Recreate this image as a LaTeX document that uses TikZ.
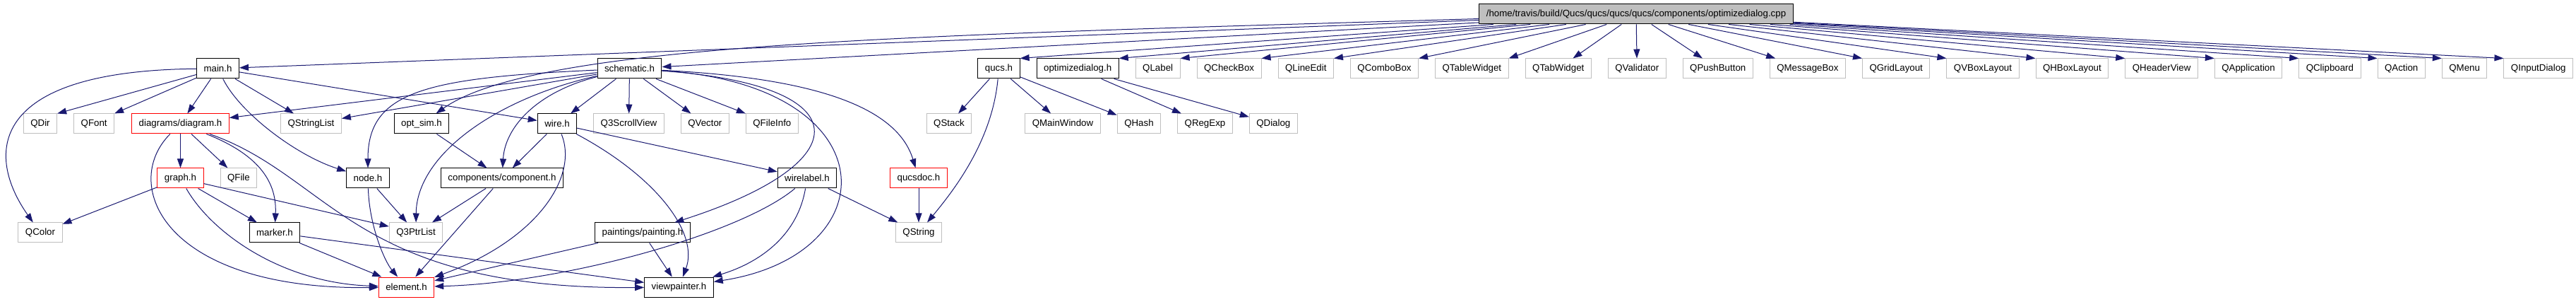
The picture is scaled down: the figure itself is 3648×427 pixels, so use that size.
\documentclass[tikz,border=0pt]{standalone}
\usepackage{fontspec}
\setmainfont{Liberation Sans}
\usetikzlibrary{arrows.meta, positioning}
\definecolor{incblue}{RGB}{25, 25, 112}
\definecolor{incgray}{RGB}{191, 191, 191}
\definecolor{incred}{RGB}{255, 0, 0}

\begin{document}
\begin{tikzpicture}[
      x=1pt, y=1pt,
      node distance=23pt,
      font=\fontsize{13.3pt}{16pt}\selectfont,
      hdr/.style={rectangle, draw=black, fill=white, line width=1pt, minimum height=28pt, inner xsep=10pt, inner ysep=0pt},
      hdrred/.style={hdr, draw=incred},
      qt/.style={hdr, draw=incgray},
      src/.style={hdr, fill=incgray},
      arr/.style={-{Triangle[length=13pt, width=9pt]}, line width=1pt, incblue}
    ]
      \useasboundingbox (0,0) rectangle (3648,-427);
      \node[src] (SRC) at (2317,-20) {/home/travis/build/Qucs/qucs/qucs/qucs/components/optimizedialog.cpp};

      \node[hdr] (MAIN) at (308.5,-97) {main.h};
      \node[hdr] (SCH) at (891.5,-97) {schematic.h};
      \node[hdr] (QUCS) at (1414.5,-97) {qucs.h};
      \node[hdr, right=of QUCS] (OPTD) {optimizedialog.h};
      \node[qt, right=of OPTD] (QLBL) {QLabel};
      \node[qt, right=of QLBL] (QCHK) {QCheckBox};
      \node[qt, right=of QCHK] (QLE) {QLineEdit};
      \node[qt, right=of QLE] (QCMB) {QComboBox};
      \node[qt, right=of QCMB] (QTBL) {QTableWidget};
      \node[qt, right=of QTBL] (QTAB) {QTabWidget};
      \node[qt, right=of QTAB] (QVAL) {QValidator};
      \node[qt, right=of QVAL] (QPB) {QPushButton};
      \node[qt, right=of QPB] (QMB) {QMessageBox};
      \node[qt, right=of QMB] (QGL) {QGridLayout};
      \node[qt, right=of QGL] (QVBL) {QVBoxLayout};
      \node[qt, right=of QVBL] (QHBL) {QHBoxLayout};
      \node[qt, right=of QHBL] (QHV) {QHeaderView};
      \node[qt, right=of QHV] (QAPP) {QApplication};
      \node[qt, right=of QAPP] (QCLP) {QClipboard};
      \node[qt, right=of QCLP] (QACT) {QAction};
      \node[qt, right=of QACT] (QMNU) {QMenu};
      \node[qt, right=of QMNU] (QID) {QInputDialog};

      \node[qt] (QDIR) at (57,-175) {QDir};
      \node[qt, right=of QDIR] (QFNT) {QFont};
      \node[hdrred] (DIAG) at (255.5,-175) {diagrams/diagram.h};
      \node[qt] (QSL) at (440.5,-175) {QStringList};
      \node[hdr] (OSIM) at (597,-175) {opt\_sim.h};
      \node[hdr] (WIRE) at (789,-175) {wire.h};
      \node[qt, right=of WIRE] (Q3SV) {Q3ScrollView};
      \node[qt, right=of Q3SV] (QVEC) {QVector};
      \node[qt, right=of QVEC] (QFI) {QFileInfo};
      \node[qt] (QSTK) at (1344,-175) {QStack};
      \node[qt] (QMW) at (1505,-175) {QMainWindow};
      \node[qt, right=of QMW] (QHSH) {QHash};
      \node[qt, right=of QHSH] (QRX) {QRegExp};
      \node[qt, right=of QRX] (QDLG) {QDialog};

      \node[hdrred] (GRAPH) at (255.5,-252) {graph.h};
      \node[qt, right=of GRAPH] (QFILE) {QFile};
      \node[hdr] (NODE) at (521,-252) {node.h};
      \node[hdr] (COMP) at (711,-252) {components/component.h};
      \node[hdr] (WLBL) at (1143,-252) {wirelabel.h};
      \node[hdrred] (QDOC) at (1301,-252) {qucsdoc.h};

      \node[qt] (QCOL) at (57,-329) {QColor};
      \node[hdr] (MARK) at (389,-329) {marker.h};
      \node[qt] (PTR) at (589,-329) {Q3PtrList};
      \node[hdr] (PAINT) at (910,-329) {paintings/painting.h};
      \node[qt] (QSTR) at (1301,-329) {QString};

      \node[hdrred] (ELEM) at (575.5,-406) {element.h};
      \node[hdr] (VIEW) at (961.5,-406) {viewpainter.h};

      \foreach \t in {MAIN, SCH, QTAB, QVAL, QPB, QMB} \draw[arr] (SRC) -- (\t);
      \foreach \t in {QUCS, OPTD, QLBL, QCHK, QLE, QCMB, QTBL} \draw[arr] (SRC) -- (\t.north east);
      \foreach \t in {QGL, QVBL, QHBL, QHV, QAPP, QCLP, QACT, QMNU, QID} \draw[arr] (SRC) -- (\t.north west);
      \draw[arr] (SRC) .. controls (1300,-50) and (760,-60) .. (OSIM);

      \draw[arr] (MAIN) -- (QDIR.north east);
      \draw[arr] (MAIN) -- (QFNT.north east);
      \foreach \t in {DIAG, QSL, WIRE} \draw[arr] (MAIN) -- (\t);
      \draw[arr] (MAIN) .. controls (340,-160) and (420,-220) .. (NODE);
      \draw[arr] (MAIN) .. controls (-20,-100) and (-20,-220) .. (QCOL);

      \foreach \t in {DIAG, QSL, WIRE, Q3SV, QVEC, QFI} \draw[arr] (SCH) -- (\t);
      \draw[arr] (SCH) .. controls (600,-110) and (521,-130) .. (NODE);
      \draw[arr] (SCH) .. controls (700,-140) and (590,-220) .. (PTR);
      \draw[arr] (SCH) .. controls (760,-130) and (715,-180) .. (COMP);
      \draw[arr] (SCH) .. controls (1220,-120) and (1220,-230) .. (PAINT);
      \draw[arr] (SCH) .. controls (1260,-120) and (1260,-360) .. (VIEW);
      \draw[arr] (SCH) .. controls (1150,-110) and (1270,-150) .. (QDOC);

      \draw[arr] (DIAG) -- (GRAPH);
      \draw[arr] (DIAG) -- (QFILE);
      \draw[arr] (DIAG) .. controls (370,-220) and (392,-260) .. (MARK);
      \draw[arr] (DIAG) .. controls (170,-260) and (230,-410) .. (ELEM);
      \draw[arr] (DIAG) .. controls (470,-250) and (500,-410) .. (VIEW);

      \foreach \t in {QCOL, MARK, PTR} \draw[arr] (GRAPH) -- (\t);
      \draw[arr] (GRAPH) .. controls (300,-330) and (400,-400) .. (ELEM);

      \draw[arr] (MARK) -- (ELEM);
      \draw[arr] (MARK) -- (VIEW);
      \draw[arr] (NODE) -- (PTR);
      \draw[arr] (NODE) .. controls (523,-320) and (545,-370) .. (ELEM);
      \draw[arr] (COMP) -- (PTR);
      \draw[arr] (COMP) -- (ELEM);
      \draw[arr] (OSIM) -- (COMP);

      \draw[arr] (WIRE) -- (COMP);
      \draw[arr] (WIRE) -- (WLBL);
      \draw[arr] (WIRE) .. controls (820,-250) and (760,-340) .. (ELEM);
      \draw[arr] (WIRE) .. controls (930,-250) and (990,-330) .. (VIEW);

      \draw[arr] (WLBL) -- (QSTR);
      \draw[arr] (WLBL) .. controls (1050,-330) and (800,-400) .. (ELEM);
      \draw[arr] (WLBL) .. controls (1130,-330) and (1080,-370) .. (VIEW);
      \draw[arr] (PAINT) -- (ELEM);
      \draw[arr] (PAINT) -- (VIEW);

      \foreach \t in {QSTK, QMW, QHSH} \draw[arr] (QUCS) -- (\t);
      \draw[arr] (QUCS) .. controls (1405,-200) and (1350,-270) .. (QSTR);
      \draw[arr] (OPTD) -- (QRX);
      \draw[arr] (OPTD) -- (QDLG);
      \draw[arr] (QDOC) -- (QSTR);
    \end{tikzpicture}
\end{document}
